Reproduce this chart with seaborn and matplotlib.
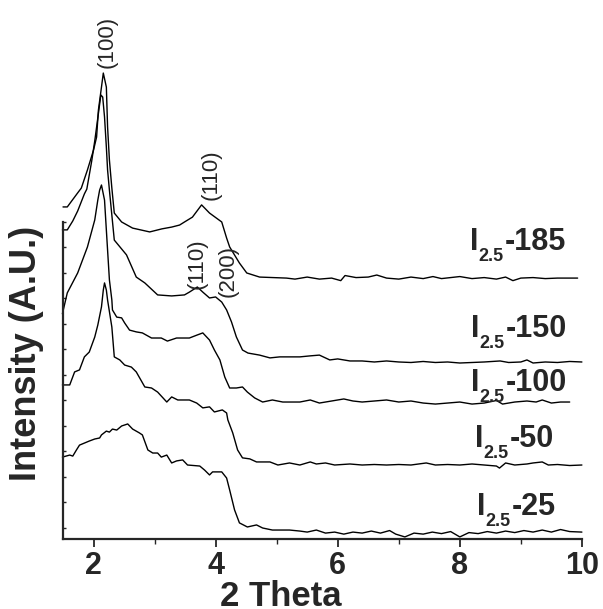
import matplotlib
matplotlib.use("Agg")
import matplotlib.pyplot as plt
import seaborn as sns
import pandas as pd
from matplotlib.ticker import MultipleLocator

sns.set_style("ticks")
plt.rcParams["font.family"] = ["Liberation Sans", "DejaVu Sans"]

# ---------------- data (2 Theta, offset intensity in A.U.) ----------------
x185 = [1.50, 1.57, 1.74, 1.80, 1.90, 2.00, 2.05, 2.08, 2.13, 2.16, 2.21, 2.23, 2.26, 2.30, 2.34,
        2.46, 2.64, 2.92, 3.12, 3.28, 3.41, 3.49, 3.62, 3.77, 3.90, 4.10, 4.18, 4.23, 4.39, 4.51,
        4.72, 5.16, 5.30, 5.50, 5.70, 5.90, 6.05, 6.12, 6.30, 6.50, 6.64, 6.80, 7.00, 7.20, 7.40,
        7.56, 7.70, 7.85, 8.00, 8.20, 8.40, 8.60, 8.75, 8.87, 9.00, 9.20, 9.40, 9.60, 9.80, 9.93]
y185 = [12.59, 12.59, 13.14, 13.33, 14.04, 14.82, 15.33, 16.39, 17.29, 17.84, 17.29, 15.73, 14.43, 13.33, 12.35,
        12.00, 11.76, 11.61, 11.73, 11.80, 11.88, 12.00, 12.19, 12.67, 12.35, 12.00, 11.37, 11.02, 10.39, 10.00,
        9.84, 9.80, 9.76, 9.84, 9.76, 9.80, 9.70, 9.90, 9.82, 9.84, 9.92, 9.80, 9.76, 9.84, 9.78,
        9.86, 9.78, 9.82, 9.86, 9.78, 9.82, 9.76, 9.84, 9.70, 9.80, 9.82, 9.78, 9.80, 9.80, 9.80]

x150 = [1.49, 1.57, 1.66, 1.74, 1.85, 1.89, 1.97, 2.02, 2.07, 2.12, 2.15, 2.18, 2.21, 2.23, 2.26,
        2.34, 2.54, 2.70, 2.84, 3.05, 3.28, 3.49, 3.57, 3.70, 3.79, 3.90, 4.00, 4.10, 4.18, 4.26,
        4.34, 4.44, 4.53, 4.72, 4.89, 5.05, 5.21, 5.38, 5.55, 5.70, 5.87, 6.00, 6.20, 6.40, 6.60,
        6.80, 7.00, 7.20, 7.40, 7.60, 7.80, 8.00, 8.20, 8.40, 8.66, 8.80, 9.00, 9.10, 9.20, 9.40,
        9.60, 9.80, 10.0]
y150 = [11.69, 11.69, 12.04, 12.43, 13.10, 13.29, 14.39, 15.18, 16.08, 16.98, 16.90, 16.12, 14.94, 14.04, 13.25,
        11.29, 10.71, 9.84, 9.61, 9.14, 9.10, 9.14, 9.25, 9.45, 9.25, 9.02, 9.06, 8.86, 8.55, 8.08,
        7.49, 6.98, 6.86, 6.78, 6.67, 6.71, 6.71, 6.71, 6.75, 6.78, 6.59, 6.63, 6.55, 6.55, 6.51,
        6.55, 6.51, 6.49, 6.53, 6.49, 6.51, 6.47, 6.49, 6.51, 6.55, 6.49, 6.51, 6.59, 6.47, 6.51,
        6.49, 6.53, 6.51]

x100 = [1.49, 1.57, 1.74, 1.90, 2.02, 2.07, 2.10, 2.13, 2.18, 2.23, 2.26, 2.30, 2.31, 2.38, 2.46,
        2.51, 2.59, 2.70, 2.80, 2.95, 3.11, 3.21, 3.36, 3.57, 3.70, 3.79, 3.90, 3.98, 4.07, 4.15,
        4.23, 4.34, 4.44, 4.52, 4.64, 4.77, 4.93, 5.10, 5.21, 5.38, 5.55, 5.70, 5.90, 6.10, 6.25,
        6.40, 6.60, 6.80, 7.00, 7.20, 7.40, 7.60, 7.80, 8.00, 8.20, 8.40, 8.60, 8.70, 8.90, 9.10,
        9.25, 9.35, 9.50, 9.65, 9.80]
y100 = [8.40, 9.22, 10.00, 11.02, 12.08, 12.86, 13.25, 13.45, 12.86, 10.90, 9.73, 8.94, 8.55, 8.27, 8.24,
        8.04, 7.76, 7.69, 7.65, 7.45, 7.45, 7.33, 7.45, 7.45, 7.57, 7.65, 7.37, 6.98, 6.59, 5.92,
        5.49, 5.49, 5.53, 5.33, 5.10, 4.94, 5.02, 4.94, 4.94, 4.94, 5.02, 4.90, 4.98, 5.06, 4.98,
        4.94, 4.98, 5.02, 4.94, 4.98, 4.90, 4.86, 4.90, 4.94, 4.86, 4.90, 5.00, 4.86, 4.94, 4.98,
        4.94, 5.02, 4.90, 4.94, 4.94]

x50 = [1.49, 1.61, 1.69, 1.77, 1.85, 1.93, 2.02, 2.07, 2.13, 2.16, 2.18, 2.21, 2.23, 2.30, 2.34,
       2.43, 2.51, 2.62, 2.70, 2.84, 2.95, 3.05, 3.20, 3.28, 3.38, 3.57, 3.69, 3.79, 3.90, 3.98,
       4.11, 4.18, 4.20, 4.28, 4.36, 4.44, 4.56, 4.67, 4.89, 5.02, 5.21, 5.38, 5.55, 5.65, 5.80,
       5.95, 6.20, 6.40, 6.60, 6.80, 7.00, 7.20, 7.45, 7.60, 7.80, 8.00, 8.20, 8.40, 8.60, 8.65,
       8.75, 8.90, 9.10, 9.20, 9.35, 9.45, 9.60, 9.80, 10.0]
y50 = [5.61, 5.61, 6.12, 6.20, 6.71, 6.90, 7.49, 7.96, 8.67, 9.33, 9.61, 9.33, 8.94, 7.88, 6.71,
       6.59, 6.39, 6.31, 6.12, 5.53, 5.49, 5.33, 4.94, 5.14, 5.02, 5.02, 4.90, 4.71, 4.75, 4.55,
       4.63, 4.51, 4.24, 3.73, 3.06, 2.75, 2.71, 2.59, 2.59, 2.47, 2.55, 2.47, 2.59, 2.51, 2.55,
       2.47, 2.51, 2.47, 2.49, 2.47, 2.49, 2.47, 2.55, 2.47, 2.49, 2.47, 2.51, 2.47, 2.43, 2.35,
       2.55, 2.47, 2.51, 2.55, 2.59, 2.47, 2.49, 2.45, 2.47]

x25 = [1.49, 1.61, 1.66, 1.72, 1.77, 1.85, 1.93, 2.02, 2.10, 2.13, 2.21, 2.26, 2.31, 2.38, 2.46,
       2.56, 2.64, 2.75, 2.80, 2.89, 2.97, 3.05, 3.11, 3.20, 3.28, 3.36, 3.46, 3.54, 3.74, 3.82,
       3.90, 3.95, 4.10, 4.18, 4.23, 4.31, 4.39, 4.52, 4.67, 4.77, 4.93, 5.21, 5.38, 5.50, 5.65,
       5.80, 5.95, 6.10, 6.25, 6.40, 6.55, 6.70, 6.85, 6.95, 7.10, 7.25, 7.40, 7.55, 7.70, 7.85,
       8.00, 8.15, 8.30, 8.45, 8.60, 8.75, 8.90, 9.05, 9.20, 9.35, 9.50, 9.65, 9.80, 10.0]
y25 = [2.78, 2.86, 2.82, 3.06, 3.25, 3.33, 3.41, 3.49, 3.53, 3.65, 3.80, 3.76, 3.88, 3.84, 4.00,
       4.08, 3.88, 3.73, 3.65, 3.06, 2.94, 2.94, 2.78, 2.86, 2.55, 2.63, 2.67, 2.47, 2.43, 2.27,
       2.08, 2.20, 2.20, 1.96, 1.49, 0.71, 0.20, 0.04, 0.12, 0.00, -0.08, -0.08, -0.12, -0.16, -0.08,
       -0.20, -0.16, -0.24, -0.16, -0.20, -0.12, -0.20, -0.10, -0.24, -0.35, -0.20, -0.24, -0.16, -0.22, -0.14,
       -0.35, -0.18, -0.22, -0.14, -0.20, -0.12, -0.18, -0.10, -0.16, -0.08, -0.16, -0.06, -0.14, -0.16]

series = [("185", x185, y185), ("150", x150, y150), ("100", x100, y100),
          ("50", x50, y50), ("25", x25, y25)]

# sample labels: name, left x, baseline y
label_names = ["185", "150", "100", "50", "25"]
label_x = [8.16, 8.18, 8.18, 8.25, 8.28]
label_y = [10.90, 7.49, 5.37, 3.18, 0.51]

# reflection labels
peak_text = ["(100)", "(110)", "(110)", "(200)"]
peak_x = [2.23, 3.92, 3.69, 4.20]
peak_y = [18.04, 12.86, 9.37, 9.06]

x_ticks = [2, 4, 6, 8, 10]

# ---------------- figure ----------------
fig = plt.figure(figsize=(6.03, 6.09), dpi=100)
ax = fig.add_axes([0.1045, 0.115, 0.8605, 0.5205])

for name, xs, ys in series:
    df = pd.DataFrame({"x": xs, "y": ys})
    sns.lineplot(data=df, x="x", y="y", sort=False, estimator=None, color="black",
                 linewidth=1.0, ax=ax, clip_on=False)

ax.set_xlim(1.5, 10)
ax.set_ylim(-0.43, 12)

for name, lx, ly in zip(label_names, label_x, label_y):
    common = dict(xy=(lx, ly), xycoords="data", textcoords="offset points",
                  fontweight="bold", va="baseline", ha="left", annotation_clip=False)
    ax.annotate("I", xytext=(0, 0), fontsize=22, **common)
    ax.annotate("2.5", xytext=(6.0, -8.0), fontsize=13, **common)
    ax.annotate("-" + name, xytext=(25.0, 0), fontsize=22, **common)

for t, px, py in zip(peak_text, peak_x, peak_y):
    ax.text(px, py, t, fontsize=16, rotation=90, ha="center", va="bottom", clip_on=False)

ax.set_xticks(x_ticks)
ax.set_xticklabels([str(v) for v in x_ticks], fontsize=22, fontweight="bold")
ax.xaxis.set_minor_locator(MultipleLocator(1))
ax.set_yticks(range(0, 13))
ax.set_yticklabels([])
ax.tick_params(axis="x", which="major", direction="out", length=6, width=1.3, pad=3)
ax.tick_params(axis="x", which="minor", direction="out", length=3.5, width=1.0)
ax.tick_params(axis="y", which="major", direction="in", length=2.5, width=1.0)

ax.set_xlabel("2 Theta", fontsize=25, fontweight="bold")
ax.xaxis.set_label_coords(0.42, -0.129)
ax.set_ylabel("Intensity (A.U.)", fontsize=26, fontweight="bold")
ax.yaxis.set_label_coords(-0.037, 0.584)

sns.despine(ax=ax, top=True, right=True)
for s in ["left", "bottom"]:
    ax.spines[s].set_linewidth(1.6)

fig.savefig("out.png", dpi=100)
